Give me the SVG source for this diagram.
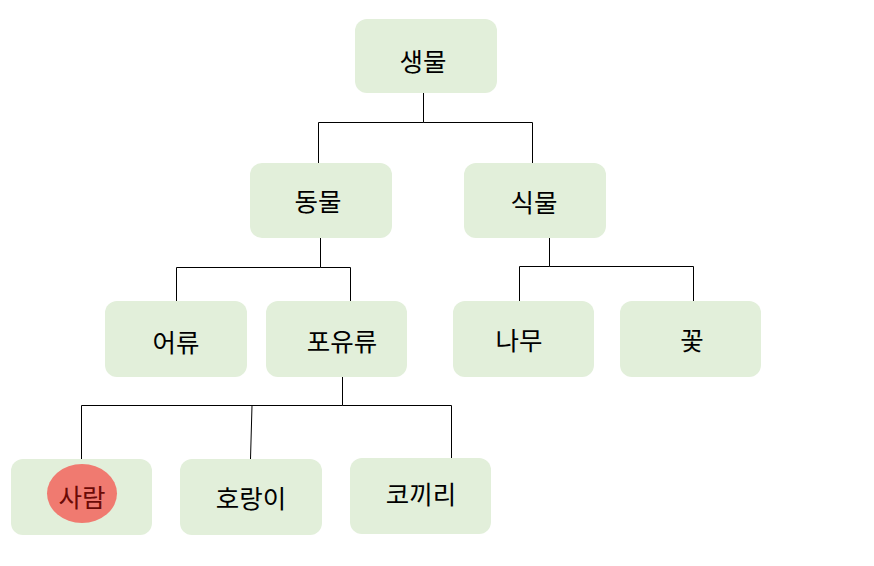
<svg xmlns="http://www.w3.org/2000/svg" width="874" height="566" viewBox="0 0 874 566">
<style>
.box{fill:#e2efda;}
.t{font-family:"Noto Sans CJK KR","Noto Sans",sans-serif;font-size:25.5px;fill:#000;text-anchor:middle;dominant-baseline:central;}
.c{fill:none;stroke:#000;stroke-width:1;}
</style>
<rect width="874" height="566" fill="#fff"/>
<g id="connectors">
<polyline class="c" points="423.5,93 423.5,122.5 318.5,122.5 318.5,163"/>
<polyline class="c" points="423.5,122.5 532.5,122.5 532.5,163"/>
<polyline class="c" points="320.5,238 320.5,267.5 176.5,267.5 176.5,301"/>
<polyline class="c" points="320.5,267.5 350.5,267.5 350.5,301"/>
<polyline class="c" points="549.5,238 549.5,266.5 519.5,266.5 519.5,301"/>
<polyline class="c" points="549.5,266.5 693.5,266.5 693.5,301"/>
<polyline class="c" points="342.5,377 342.5,405.5 81.5,405.5 81.5,459"/>
<polyline class="c" points="342.5,405.5 451.5,405.5 451.5,458"/>
<line class="c" x1="252" y1="405.5" x2="250.5" y2="459"/>
</g>
<g id="n-life"><rect class="box" x="355" y="19" width="142" height="74" rx="12"/><text class="t" x="423" y="59">생물</text></g>
<g id="n-animal"><rect class="box" x="250" y="163" width="142" height="75" rx="12"/><text class="t" x="318" y="199">동물</text></g>
<g id="n-plant"><rect class="box" x="464" y="163" width="142" height="75" rx="12"/><text class="t" x="534" y="200">식물</text></g>
<g id="n-fish"><rect class="box" x="105" y="301" width="142" height="76" rx="12"/><text class="t" x="176" y="340">어류</text></g>
<g id="n-mammal"><rect class="box" x="266" y="301" width="141" height="76" rx="12"/><text class="t" x="342" y="339">포유류</text></g>
<g id="n-tree"><rect class="box" x="453" y="301" width="141" height="76" rx="12"/><text class="t" x="519" y="338">나무</text></g>
<g id="n-flower"><rect class="box" x="620" y="301" width="141" height="76" rx="12"/><text class="t" x="692" y="338">꽃</text></g>
<g id="n-human"><rect class="box" x="11" y="459" width="141" height="76" rx="12"/><ellipse cx="82" cy="493.5" rx="35" ry="29.5" fill="#f07a70"/><text class="t" x="82" y="495" style="fill:#6b0a06">사람</text></g>
<g id="n-tiger"><rect class="box" x="180" y="459" width="142" height="76" rx="12"/><text class="t" x="251" y="496">호랑이</text></g>
<g id="n-elephant"><rect class="box" x="350" y="458" width="141" height="76" rx="12"/><text class="t" x="421" y="492">코끼리</text></g>
</svg>
